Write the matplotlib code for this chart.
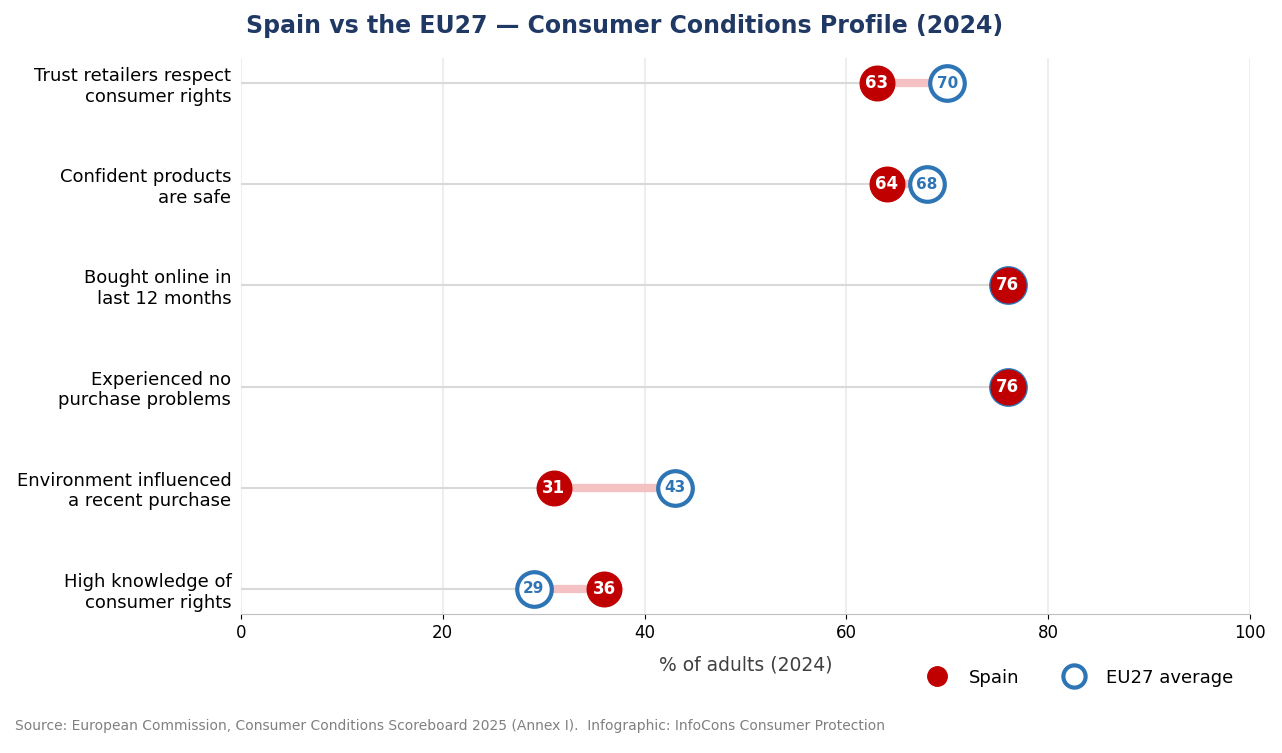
import matplotlib.pyplot as plt
from matplotlib.lines import Line2D

categories = ['Trust retailers respect\nconsumer rights',
              'Confident products\nare safe',
              'Bought online in\nlast 12 months',
              'Experienced no\npurchase problems',
              'Environment influenced\na recent purchase',
              'High knowledge of\nconsumer rights']
spain = [63, 64, 76, 76, 31, 36]
eu27 = [70, 68, 76, 76, 43, 29]

red = '#c00000'
blue = '#2e75b6'

fig = plt.figure(figsize=(12.82, 7.53), dpi=100)
ax = fig.add_axes([241 / 1282, 1 - 614 / 753, (1250 - 241) / 1282, (614 - 58) / 753])

n = len(categories)
ys = list(range(n - 1, -1, -1))
for y, s, e in zip(ys, spain, eu27):
    lo, hi = min(s, e), max(s, e)
    ax.plot([0, lo], [y, y], color='#d9d9d9', lw=1.5, zorder=1)
    ax.plot([lo, hi], [y, y], color='#f4c2c2', lw=6, zorder=2, solid_capstyle='butt')
    ax.scatter(e, y, s=620, facecolor='white', edgecolor=blue, linewidth=3, zorder=3)
    ax.scatter(s, y, s=620, color=red, zorder=4)
    if s != e:
        ax.text(e, y, str(e), ha='center', va='center', color=blue, fontsize=11,
                fontweight='bold', zorder=5)
    ax.text(s, y, str(s), ha='center', va='center', color='white', fontsize=12,
            fontweight='bold', zorder=6)

ax.set_xlim(0, 100)
ax.set_ylim(-0.25, n - 0.75)
ax.set_yticks(ys)
ax.set_yticklabels(categories, fontsize=13)
ax.set_xticks(range(0, 101, 20))
ax.tick_params(axis='x', labelsize=12)
ax.tick_params(axis='y', length=0, pad=7)
ax.grid(axis='x', color='#ebebeb', lw=1.2, zorder=0)
ax.set_axisbelow(True)
for sp in ['top', 'right', 'left']:
    ax.spines[sp].set_visible(False)
ax.spines['bottom'].set_color('#bfbfbf')
ax.set_xlabel('% of adults (2024)', fontsize=13.5, color='#404040', labelpad=10)

fig.text(0.487, 0.965, 'Spain vs the EU27 \u2014 Consumer Conditions Profile (2024)',
         ha='center', va='center', fontsize=17, fontweight='bold', color='#1f3864')

handles = [Line2D([], [], marker='o', ls='', color=red, markersize=14),
           Line2D([], [], marker='o', ls='', markerfacecolor='white',
                  markeredgecolor=blue, markeredgewidth=3, markersize=16)]
fig.legend(handles, ['Spain', 'EU27 average'], loc='center right', ncol=2,
           bbox_to_anchor=(0.975, 0.10), frameon=False, fontsize=13, columnspacing=2)

fig.text(0.012, 0.03, 'Source: European Commission, Consumer Conditions Scoreboard 2025 (Annex I).  '
         'Infographic: InfoCons Consumer Protection', fontsize=10, color='#808080')

fig.savefig('out.png', dpi=100)
